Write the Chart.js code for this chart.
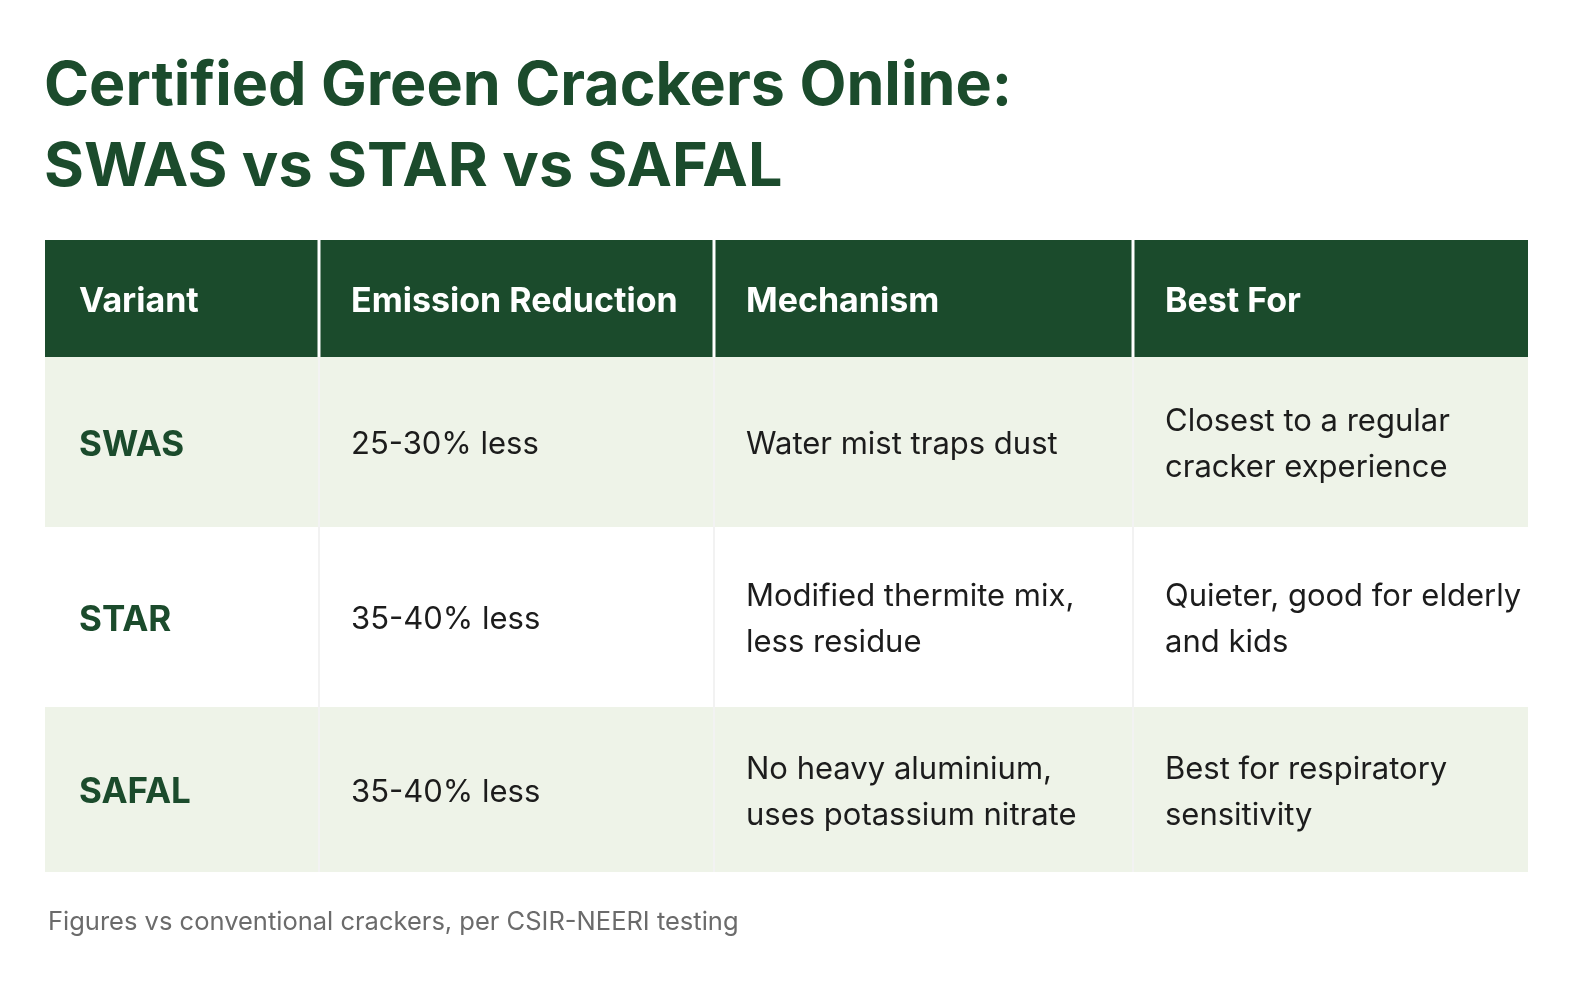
<!DOCTYPE html>
<html><head><meta charset="utf-8">
<script src="https://cdn.jsdelivr.net/npm/chart.js@4/dist/chart.umd.min.js"></script>
<style>html,body{margin:0;background:#fff}#wrap{width:1570px;height:1002px}</style>
</head><body><div id="wrap"><canvas id="c"></canvas></div>
<script>
const titleLines = ["Certified Green Crackers Online:", "SWAS vs STAR vs SAFAL"];
const headers = ["Variant", "Emission Reduction", "Mechanism", "Best For"];
const variants = ["SWAS", "STAR", "SAFAL"];
const reductions = ["25-30% less", "35-40% less", "35-40% less"];
const mechanisms = [["Water mist traps dust"], ["Modified thermite mix,", "less residue"], ["No heavy aluminium,", "uses potassium nitrate"]];
const bestFor = [["Closest to a regular", "cracker experience"], ["Quieter, good for elderly", "and kids"], ["Best for respiratory", "sensitivity"]];
const footnote = "Figures vs conventional crackers, per CSIR-NEERI testing";

// layout (page pixels)
const colEdges = [45, 319, 714, 1133, 1528];
const rowEdges = [240, 357, 527, 707, 872];
const GREEN = "#1b4b2c";
const FONT = "Inter, 'Noto Sans', sans-serif";

const tablePlugin = {
	id: "table",
	afterDraw(chart) {
		const ctx = chart.ctx;
		const xs = chart.scales.x, ys = chart.scales.y;
		const X = (v) => xs.getPixelForValue(v);
		const Y = (v) => ys.getPixelForValue(v);
		ctx.save();
		ctx.textBaseline = "middle";
		ctx.textAlign = "left";
		// title
		ctx.fillStyle = GREEN;
		ctx.font = "bold 61px " + FONT;
		ctx.fillText(titleLines[0], X(44), Y(87));
		ctx.fillText(titleLines[1], X(44), Y(168));
		// cells
		const rows = [headers].concat(variants.map((v, i) => [[v], [reductions[i]], mechanisms[i], bestFor[i]]));
		for (let r = 0; r < rows.length; r++) {
			const top = Y(rowEdges[r]), bot = Y(rowEdges[r + 1]);
			for (let c = 0; c < 4; c++) {
				const left = X(colEdges[c]), right = X(colEdges[c + 1]);
				ctx.fillStyle = r == 0 ? GREEN : (r == 2 ? "#ffffff" : "#eef3e8");
				ctx.fillRect(left, top, right - left, bot - top);
				let lines = r == 0 ? [rows[r][c]] : rows[r][c];
				if (r == 0) { ctx.fillStyle = "#ffffff"; ctx.font = "bold 34px " + FONT; }
				else if (c == 0) { ctx.fillStyle = GREEN; ctx.font = "bold 35px " + FONT; }
				else { ctx.fillStyle = "#1c1c1c"; ctx.font = "31px " + FONT; }
				const mid = (top + bot) / 2 + 3, lh = 46;
				const pad = c == 0 ? 34 : 32;
				lines.forEach((t, k) => ctx.fillText(t, left + pad, mid + (k - (lines.length - 1) / 2) * lh));
			}
		}
		// dividers
		ctx.strokeStyle = "#f2f2f2";
		ctx.lineWidth = 2;
		for (let c = 1; c < 4; c++) {
			ctx.beginPath(); ctx.moveTo(X(colEdges[c]), Y(rowEdges[0])); ctx.lineTo(X(colEdges[c]), Y(rowEdges[4])); ctx.stroke();
		}
		ctx.strokeStyle = "#ffffff"; ctx.lineWidth = 3;
		for (let c = 1; c < 4; c++) {
			ctx.beginPath(); ctx.moveTo(X(colEdges[c]), Y(rowEdges[0])); ctx.lineTo(X(colEdges[c]), Y(rowEdges[1])); ctx.stroke();
		}
		// footnote
		ctx.fillStyle = "#6b6b6b";
		ctx.font = "25.5px " + FONT;
		ctx.fillText(footnote, X(48), Y(922));
		ctx.restore();
	}
};

new Chart(document.getElementById("c"), {
	type: "scatter",
	data: { datasets: [{ data: [] }] },
	options: {
		responsive: true,
		maintainAspectRatio: false,
		animation: false,
		layout: { padding: 0 },
		plugins: { legend: { display: false }, tooltip: { enabled: false } },
		scales: {
			x: { type: "linear", min: 0, max: 1570, display: false },
			y: { type: "linear", min: 0, max: 1002, reverse: true, display: false }
		}
	},
	plugins: [tablePlugin]
});
</script></body></html>
